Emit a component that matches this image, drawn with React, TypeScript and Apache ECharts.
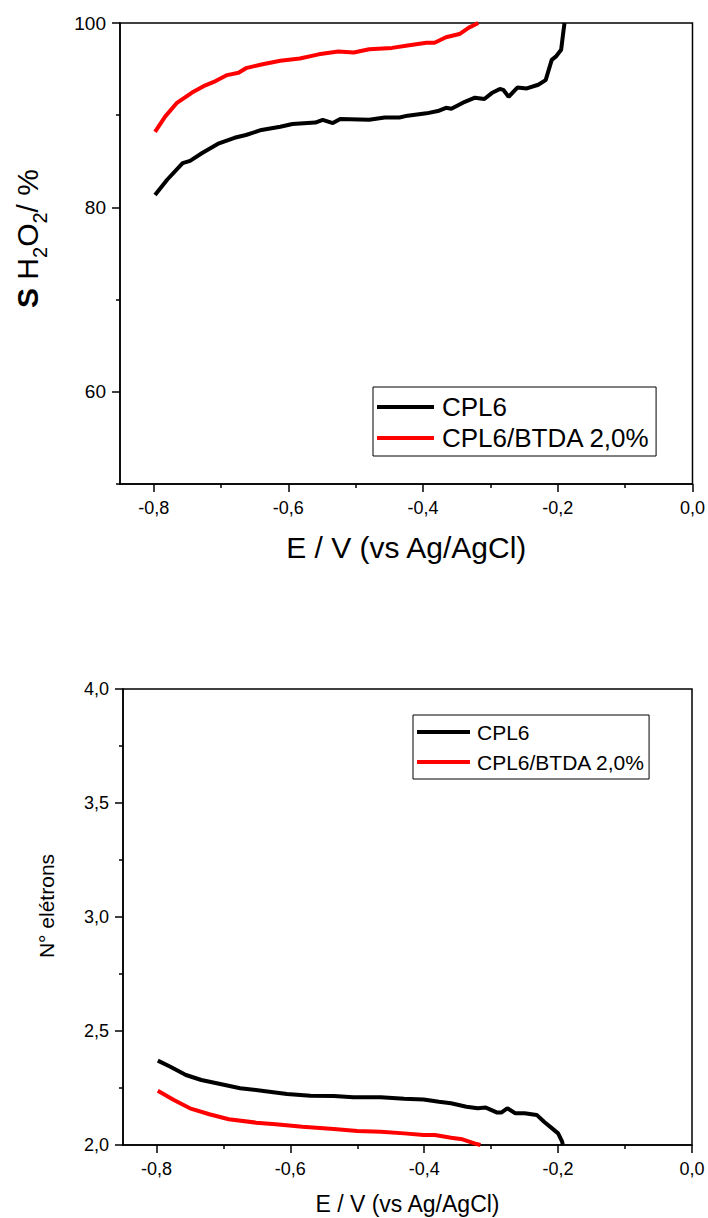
import React, { useEffect, useRef } from "react";
import * as echarts from "echarts";

// ---- Data ----
const seriesNames = ["CPL6", "CPL6/BTDA 2,0%"];
const xTicksMajor = [-0.8, -0.6, -0.4, -0.2, 0];
const xTicksMinor = [-0.7, -0.5, -0.3, -0.1];
const sTicksMajor = [60, 80, 100];
const sTicksMinor = [50, 70, 90];
const nTicksMajor = [2, 2.5, 3, 3.5, 4];
const nTicksMinor = [2.25, 2.75, 3.25, 3.75];

// Top chart: S H2O2 / %
const sE_cpl6 = [-0.798, -0.78, -0.757, -0.746, -0.728, -0.703, -0.68, -0.663, -0.64, -0.612, -0.594, -0.56, -0.549, -0.534, -0.523, -0.48, -0.457, -0.435, -0.423, -0.395, -0.378, -0.366, -0.358, -0.338, -0.323, -0.309, -0.298, -0.286, -0.281, -0.273, -0.26, -0.246, -0.229, -0.218, -0.209, -0.203, -0.195, -0.192, -0.19];
const sV_cpl6 = [81.35, 83.0, 84.8, 85.05, 85.9, 86.95, 87.55, 87.85, 88.4, 88.75, 89.05, 89.2, 89.5, 89.15, 89.6, 89.5, 89.75, 89.75, 89.95, 90.2, 90.45, 90.8, 90.7, 91.45, 91.9, 91.75, 92.4, 92.85, 92.75, 92.0, 93.0, 92.9, 93.3, 93.8, 96.0, 96.35, 97.1, 98.9, 100.0];
const sE_btda = [-0.798, -0.783, -0.766, -0.743, -0.726, -0.708, -0.691, -0.674, -0.663, -0.64, -0.612, -0.583, -0.555, -0.526, -0.503, -0.48, -0.446, -0.423, -0.395, -0.383, -0.366, -0.346, -0.332, -0.318];
const sV_btda = [88.2, 89.85, 91.3, 92.45, 93.15, 93.7, 94.35, 94.6, 95.1, 95.5, 95.9, 96.15, 96.6, 96.9, 96.8, 97.15, 97.3, 97.55, 97.85, 97.85, 98.45, 98.8, 99.5, 100.0];

// Bottom chart: N° elétrons
const nE_cpl6 = [-0.798, -0.78, -0.756, -0.733, -0.71, -0.675, -0.64, -0.605, -0.57, -0.535, -0.506, -0.465, -0.43, -0.401, -0.378, -0.36, -0.337, -0.32, -0.308, -0.291, -0.285, -0.276, -0.264, -0.25, -0.232, -0.221, -0.209, -0.2, -0.194, -0.193];
const nV_cpl6 = [2.37, 2.344, 2.307, 2.285, 2.271, 2.249, 2.237, 2.224, 2.216, 2.215, 2.209, 2.209, 2.203, 2.2, 2.19, 2.183, 2.168, 2.161, 2.164, 2.142, 2.142, 2.161, 2.139, 2.139, 2.132, 2.102, 2.073, 2.051, 2.015, 2.0];
const nE_btda = [-0.798, -0.774, -0.75, -0.721, -0.692, -0.651, -0.622, -0.582, -0.535, -0.5, -0.465, -0.43, -0.401, -0.384, -0.36, -0.343, -0.325, -0.316];
const nV_btda = [2.238, 2.197, 2.161, 2.135, 2.113, 2.098, 2.091, 2.08, 2.07, 2.061, 2.058, 2.051, 2.044, 2.044, 2.032, 2.025, 2.007, 2.0];

const FONT = "'Liberation Sans', Arial, Helvetica, sans-serif";
const fmt = (v: number) => v.toFixed(1).replace(".", ",");
const pairs = (xs: number[], ys: number[]) => xs.map((x, i) => [x, ys[i]]);

function measure(text: string, font: string) {
  const c = document.createElement("canvas").getContext("2d");
  if (!c) return text.length * 15;
  c.font = font;
  return c.measureText(text).width;
}

function buildYTitle() {
  const pieces = [
    { t: "S", f: 30, b: true, sub: false },
    { t: " H", f: 30, b: false, sub: false },
    { t: "2", f: 20, b: false, sub: true },
    { t: "O", f: 30, b: false, sub: false },
    { t: "2", f: 20, b: false, sub: true },
    { t: "/ %", f: 30, b: false, sub: false },
  ];
  let x = 0;
  const children: any[] = [];
  for (const p of pieces) {
    const weight = p.b ? "bold" : "normal";
    children.push({
      type: "text",
      x,
      y: p.sub ? 9 - 0.35 * p.f : -0.35 * p.f,
      style: {
        text: p.t,
        fontSize: p.f,
        fontWeight: weight,
        fontFamily: FONT,
        fill: "#000",
        align: "left",
        verticalAlign: "middle",
      },
    });
    x += measure(p.t, `${weight} ${p.f}px ${FONT}`);
  }
  return { type: "group", x: 38, y: 308, rotation: Math.PI / 2, children };
}

function xAxes(gridIndex: number, title: string, titleSize: number, nameGap: number) {
  return [
    {
      type: "value",
      gridIndex,
      position: "bottom",
      min: -0.85,
      max: 0,
      axisLine: { show: true, onZero: false, lineStyle: { color: "#000", width: 1.5 } },
      axisTick: { show: true, length: 8, customValues: xTicksMajor, lineStyle: { color: "#000", width: 1.5 } },
      axisLabel: { show: true, customValues: xTicksMajor, formatter: fmt, fontSize: 18, color: "#000", fontFamily: FONT, margin: 15 },
      splitLine: { show: false },
      name: title,
      nameLocation: "middle",
      nameGap,
      nameTextStyle: { fontSize: titleSize, color: "#000", fontFamily: FONT },
    },
    {
      type: "value",
      gridIndex,
      position: "bottom",
      offset: 0,
      min: -0.85,
      max: 0,
      axisLine: { show: false, onZero: false },
      axisTick: { show: true, length: 4, customValues: xTicksMinor, lineStyle: { color: "#000", width: 1.5 } },
      axisLabel: { show: false },
      splitLine: { show: false },
    },
  ];
}

function yAxes(gridIndex: number, min: number, max: number, major: number[], minor: number[], labelSize: number, labelFmt: (v: number) => string) {
  return [
    {
      type: "value",
      gridIndex,
      position: "left",
      min,
      max,
      axisLine: { show: true, onZero: false, lineStyle: { color: "#000", width: 1.5 } },
      axisTick: { show: true, length: 8, customValues: major, lineStyle: { color: "#000", width: 1.5 } },
      axisLabel: { show: true, customValues: major, formatter: labelFmt, fontSize: labelSize, color: "#000", fontFamily: FONT, margin: 14 },
      splitLine: { show: false },
    },
    {
      type: "value",
      gridIndex,
      position: "left",
      offset: 0,
      min,
      max,
      axisLine: { show: false, onZero: false },
      axisTick: { show: true, length: 4, customValues: minor, lineStyle: { color: "#000", width: 1.5 } },
      axisLabel: { show: false },
      splitLine: { show: false },
    },
  ];
}

export default function App() {
  const ref = useRef<HTMLDivElement>(null);
  useEffect(() => {
    if (!ref.current) return;
    const chart = echarts.init(ref.current, null, { renderer: "svg" });
    const option: any = {
      animation: false,
      backgroundColor: "#fff",
      textStyle: { fontFamily: FONT },
      grid: [
        { left: 120, top: 23, width: 573, height: 461, show: true, borderColor: "#000", borderWidth: 1.5, backgroundColor: "transparent" },
        { left: 123, top: 689, width: 569, height: 456, show: true, borderColor: "#000", borderWidth: 1.5, backgroundColor: "transparent" },
      ],
      xAxis: [...xAxes(0, "E / V (vs Ag/AgCl)", 30, 48), ...xAxes(1, "E / V (vs Ag/AgCl)", 23, 47)],
      yAxis: [
        ...yAxes(0, 50, 100, sTicksMajor, sTicksMinor, 19, (v: number) => String(Math.round(v))),
        ...yAxes(1, 2, 4, nTicksMajor, nTicksMinor, 18, fmt),
      ],
      legend: [
        {
          left: 373,
          top: 387,
          orient: "vertical",
          data: seriesNames.map((n) => ({ name: n, icon: "rect" })),
          itemWidth: 57,
          itemHeight: 4,
          itemGap: 1,
          padding: [5, 6, 3, 4],
          borderColor: "#000",
          borderWidth: 1,
          borderRadius: 0,
          textStyle: { fontSize: 26, color: "#000", fontFamily: FONT, lineHeight: 30, padding: [0, 0, 0, 3] },
          selectedMode: false,
        },
        {
          left: 413,
          top: 715,
          orient: "vertical",
          data: seriesNames.map((n) => ({ name: n, icon: "rect" })),
          itemWidth: 53,
          itemHeight: 4,
          itemGap: 4,
          padding: [4, 4, 4, 4],
          borderColor: "#000",
          borderWidth: 1,
          borderRadius: 0,
          textStyle: { fontSize: 21, color: "#000", fontFamily: FONT, lineHeight: 26, padding: [0, 0, 0, 2] },
          selectedMode: false,
        },
      ],
      graphic: [
        buildYTitle(),
        {
          type: "text",
          x: 46,
          y: 906,
          rotation: Math.PI / 2,
          style: {
            text: "N° elétrons",
            fontSize: 21,
            fontFamily: FONT,
            fill: "#000",
            align: "center",
            verticalAlign: "middle",
          },
        },
      ],
      series: [
        { name: seriesNames[0], type: "line", xAxisIndex: 0, yAxisIndex: 0, data: pairs(sE_cpl6, sV_cpl6), showSymbol: false, symbol: "none", color: "#000", lineStyle: { color: "#000", width: 4 } },
        { name: seriesNames[1], type: "line", xAxisIndex: 0, yAxisIndex: 0, data: pairs(sE_btda, sV_btda), showSymbol: false, symbol: "none", color: "#ff0000", lineStyle: { color: "#ff0000", width: 4 } },
        { name: seriesNames[0], type: "line", xAxisIndex: 2, yAxisIndex: 2, data: pairs(nE_cpl6, nV_cpl6), showSymbol: false, symbol: "none", color: "#000", lineStyle: { color: "#000", width: 4 } },
        { name: seriesNames[1], type: "line", xAxisIndex: 2, yAxisIndex: 2, data: pairs(nE_btda, nV_btda), showSymbol: false, symbol: "none", color: "#ff0000", lineStyle: { color: "#ff0000", width: 4 } },
      ],
    };
    chart.setOption(option);
    return () => chart.dispose();
  }, []);
  return (
    <div
      ref={ref}
      style={{ position: "absolute", left: 0, top: 0, width: 708, height: 1218, background: "#fff" }}
    />
  );
}
